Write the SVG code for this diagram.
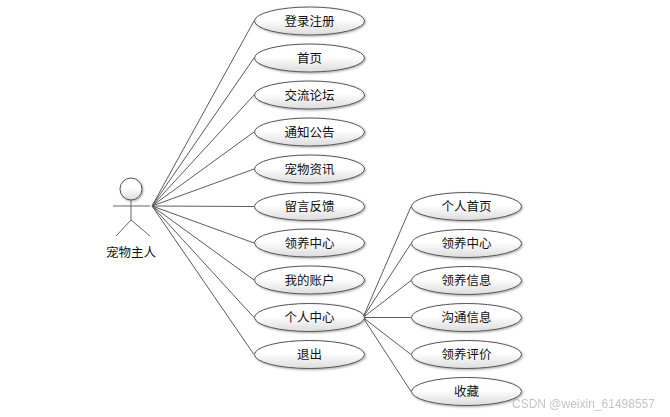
<svg xmlns="http://www.w3.org/2000/svg" width="670" height="417" viewBox="0 0 670 417">
<defs>
<linearGradient id="g" x1="0" y1="0" x2="0" y2="1"><stop offset="0" stop-color="#ffffff"/><stop offset="0.45" stop-color="#ffffff"/><stop offset="1" stop-color="#dcdcdc"/></linearGradient>
<filter id="s" x="-10%" y="-20%" width="120%" height="150%"><feDropShadow dx="1" dy="1" stdDeviation="0.8" flood-color="#000" flood-opacity="0.35"/></filter>
</defs>
<style>
text{font-family:"Noto Sans CJK SC","Liberation Sans",sans-serif;font-size:12.5px;fill:#111;text-anchor:middle}
.u{fill:url(#g);stroke:#555;stroke-width:1;filter:url(#s)}
.c line{stroke:#5c5c5c;stroke-width:1}
.a{stroke:#666;stroke-width:1;fill:none}
.wm{font-family:"Liberation Sans",sans-serif;font-size:12px;fill:#aaa;opacity:.7;text-anchor:start}
</style>
<rect width="670" height="417" fill="#fff"/>
<g id="connectors" class="c">
<line x1="152" y1="206" x2="254" y2="21"/>
<line x1="152" y1="206" x2="254" y2="58"/>
<line x1="152" y1="206" x2="254" y2="95"/>
<line x1="152" y1="206" x2="254" y2="132"/>
<line x1="152" y1="206" x2="254" y2="169"/>
<line x1="152" y1="206" x2="254" y2="206.500"/>
<line x1="152" y1="206" x2="254" y2="243"/>
<line x1="152" y1="206" x2="254" y2="280"/>
<line x1="152" y1="206" x2="254" y2="317.500"/>
<line x1="152" y1="206" x2="254" y2="354.500"/>
<line x1="363" y1="317.500" x2="411" y2="206.500"/>
<line x1="363" y1="317.500" x2="411" y2="243.500"/>
<line x1="363" y1="317.500" x2="411" y2="280.500"/>
<line x1="363" y1="317.500" x2="411" y2="317.500"/>
<line x1="363" y1="317.500" x2="411" y2="354.500"/>
<line x1="363" y1="317.500" x2="411" y2="391.500"/>
</g>
<g id="actor">
<circle class="u" cx="131" cy="189" r="11"/>
<path class="a" d="M131 200V220M113 206H150M131 220L116 236M131 220L150 236"/>
<text x="131" y="257">宠物主人</text>
</g>
<g id="n1"><ellipse class="u" cx="309.500" cy="21" rx="55" ry="14"/><text x="309.500" y="25.500">登录注册</text></g>
<g id="n2"><ellipse class="u" cx="309.500" cy="58" rx="55" ry="14"/><text x="309.500" y="62.500">首页</text></g>
<g id="n3"><ellipse class="u" cx="309.500" cy="95" rx="55" ry="14"/><text x="309.500" y="99.500">交流论坛</text></g>
<g id="n4"><ellipse class="u" cx="309.500" cy="132" rx="55" ry="14"/><text x="309.500" y="136.500">通知公告</text></g>
<g id="n5"><ellipse class="u" cx="309.500" cy="169" rx="55" ry="14"/><text x="309.500" y="173.500">宠物资讯</text></g>
<g id="n6"><ellipse class="u" cx="309.500" cy="206.500" rx="55" ry="14"/><text x="309.500" y="211">留言反馈</text></g>
<g id="n7"><ellipse class="u" cx="309.500" cy="243" rx="55" ry="14"/><text x="309.500" y="247.500">领养中心</text></g>
<g id="n8"><ellipse class="u" cx="309.500" cy="280" rx="55" ry="14"/><text x="309.500" y="284.500">我的账户</text></g>
<g id="n9"><ellipse class="u" cx="309.500" cy="317.500" rx="55" ry="14"/><text x="309.500" y="322">个人中心</text></g>
<g id="n10"><ellipse class="u" cx="309.500" cy="354.500" rx="55" ry="14"/><text x="309.500" y="359">退出</text></g>
<g id="m1"><ellipse class="u" cx="466.500" cy="206.500" rx="55" ry="14"/><text x="466.500" y="211">个人首页</text></g>
<g id="m2"><ellipse class="u" cx="466.500" cy="243.500" rx="55" ry="14"/><text x="466.500" y="248">领养中心</text></g>
<g id="m3"><ellipse class="u" cx="466.500" cy="280.500" rx="55" ry="14"/><text x="466.500" y="285">领养信息</text></g>
<g id="m4"><ellipse class="u" cx="466.500" cy="317.500" rx="55" ry="14"/><text x="466.500" y="322">沟通信息</text></g>
<g id="m5"><ellipse class="u" cx="466.500" cy="354.500" rx="55" ry="14"/><text x="466.500" y="359">领养评价</text></g>
<g id="m6"><ellipse class="u" cx="466.500" cy="391.500" rx="55" ry="14"/><text x="466.500" y="396">收藏</text></g>
<text class="wm" x="512" y="408">CSDN @weixin_61498557</text>
</svg>
